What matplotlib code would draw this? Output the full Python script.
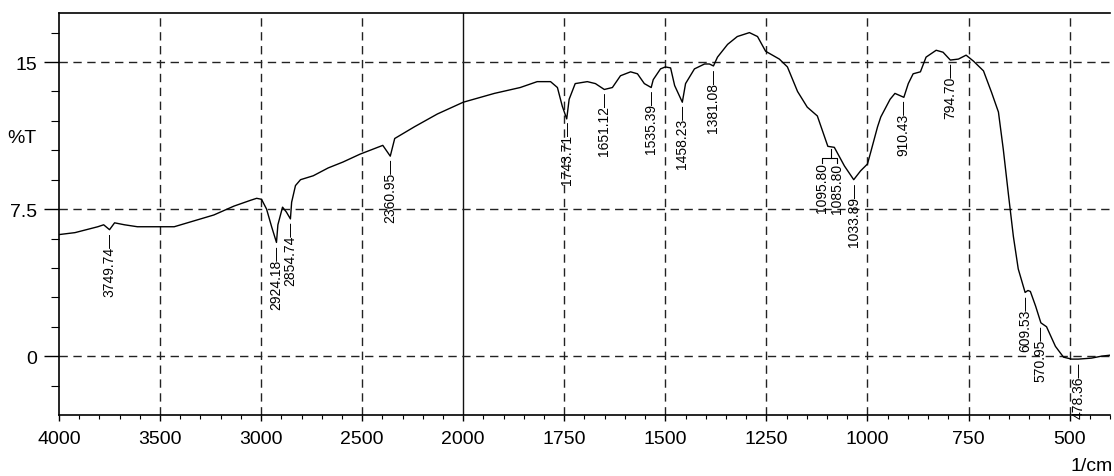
import numpy as np
import matplotlib.pyplot as plt

plt.rcParams['font.family'] = ['Liberation Sans', 'DejaVu Sans']

# IR spectrum traced off the print-out (1/cm, %T)
wavenumber = [4000, 3921, 3808, 3779, 3750, 3725, 3676, 3612, 3514, 3430,
              3332, 3234, 3135, 3052, 3022, 2998, 2973, 2948, 2924, 2917,
              2894, 2875, 2855, 2849, 2830, 2805, 2742, 2668, 2595, 2511,
              2398, 2361, 2339, 2241, 2128, 2000, 1923, 1859, 1817, 1784,
              1767, 1755, 1744, 1738, 1723, 1693, 1673, 1651, 1631, 1611,
              1586, 1569, 1552, 1535, 1530, 1512, 1500, 1487, 1477, 1458,
              1450, 1428, 1403, 1391, 1381, 1371, 1346, 1322, 1292, 1272,
              1252, 1218, 1198, 1173, 1149, 1124, 1098, 1082, 1057, 1034,
              1017, 1000, 992, 975, 967, 944, 932, 910, 899, 887,
              869, 855, 830, 813, 795, 775, 756, 738, 713, 693,
              676, 664, 651, 639, 627, 610, 603, 597, 584, 571,
              557, 535, 515, 495, 478, 446, 421, 400]
transmittance = [6.2, 6.3, 6.6, 6.7, 6.45, 6.8, 6.7, 6.6, 6.6, 6.6,
                 6.9, 7.2, 7.65, 7.95, 8.05, 8.0, 7.5, 6.6, 5.8, 6.7,
                 7.6, 7.35, 7.0, 7.85, 8.7, 9.0, 9.2, 9.6, 9.9, 10.3,
                 10.75, 10.2, 11.1, 11.7, 12.35, 12.95, 13.4, 13.7, 14.0, 14.0,
                 13.7, 12.75, 12.1, 13.1, 13.9, 14.0, 13.9, 13.6, 13.7, 14.3,
                 14.5, 14.4, 13.9, 13.7, 14.1, 14.65, 14.75, 14.7, 13.8, 12.95,
                 13.9, 14.65, 14.9, 14.9, 14.8, 15.25, 15.9, 16.3, 16.5, 16.3,
                 15.55, 15.15, 14.75, 13.5, 12.7, 12.25, 10.7, 10.65, 9.7, 9.0,
                 9.45, 9.8, 10.4, 11.7, 12.2, 13.1, 13.4, 13.2, 13.9, 14.4,
                 14.5, 15.25, 15.6, 15.5, 15.1, 15.15, 15.35, 15.05, 14.55, 13.45,
                 12.45, 10.55, 8.2, 6.1, 4.45, 3.25, 3.35, 3.3, 2.55, 1.7,
                 1.5, 0.5, -0.05, -0.15, -0.15, -0.1, 0.0, 0.05]

peak_labels = [3749.74, 2924.18, 2854.74, 2360.95, 1743.71, 1651.12, 1535.39,
               1458.23, 1381.08, 1033.89, 910.43, 794.70, 609.53, 570.95, 478.36]
pair_labels = [1095.80, 1085.80]

major_x = [4000, 3500, 3000, 2500, 2000, 1750, 1500, 1250, 1000, 750, 500]
y_ticks = [0, 7.5, 15]


# the chart prints 4000-2000 at half the scale of 2000-400
def fwd(w):
    w = np.asarray(w, dtype=float)
    return np.where(w <= 2000, w, 2000 + (w - 2000) / 2)


def inv(u):
    u = np.asarray(u, dtype=float)
    return np.where(u <= 2000, u, 2000 + (u - 2000) * 2)


fig = plt.figure(figsize=(11.14, 4.77), dpi=100)
ax = fig.add_axes([59 / 1114, 1 - 416 / 477, 1051 / 1114, 402 / 477])
ax.set_xscale('function', functions=(fwd, inv))
ax.set_xlim(4000, 400)
ax.set_ylim(-3, 17.5)

# grid
grid_kw = dict(color='#222222', lw=1.0, linestyle=(0, (6, 4)), zorder=1)
for v in major_x:
    if v == 2000:
        ax.axvline(v, color='#111111', lw=1.0, zorder=1)
    elif v != 4000:
        ax.axvline(v, **grid_kw)
for v in y_ticks:
    ax.axhline(v, **grid_kw)

ax.plot(wavenumber, transmittance, color='black', lw=1.0, zorder=3)

# peak labels hanging under each dip
wn_asc = np.array(wavenumber[::-1], dtype=float)
t_asc = np.array(transmittance[::-1], dtype=float)
for p in peak_labels:
    y0 = np.interp(p, wn_asc, t_asc)
    ax.annotate('%.2f\u2014' % p, xy=(p, y0), xytext=(0, -1.5),
                textcoords='offset points', rotation=90, ha='center', va='top',
                fontsize=10, zorder=4)

# the 1095.80 / 1085.80 pair shares one stem
pc = np.mean(pair_labels)
yp = np.interp(pc, wn_asc, t_asc)
ax.plot([pc, pc], [yp - 0.1, yp - 0.55], color='black', lw=0.8)
ax.plot([1112, 1112, 1076, 1076], [yp - 0.85, yp - 0.55, yp - 0.55, yp - 0.85],
        color='black', lw=0.8)
for p, xx in zip(pair_labels, [1112, 1076]):
    ax.text(xx, yp - 0.8, '%.2f' % p, rotation=90, ha='center', va='top',
            fontsize=10, zorder=4)

# ticks
ax.set_xticks(major_x)
ax.set_xticklabels([str(v) for v in major_x])
minor_x = list(range(3900, 2000, -100)) + list(range(1950, 399, -50))
ax.set_xticks(minor_x, minor=True)
ax.set_yticks(y_ticks)
ax.set_yticklabels(['0', '7.5', '15'])
ax.set_yticks([-1.5, 1.5, 3, 4.5, 6, 9, 10.5, 12, 13.5, 16.5], minor=True)
ax.tick_params(axis='x', which='major', direction='out', length=4, width=1,
               pad=7, labelsize=14)
ax.tick_params(axis='x', which='minor', direction='out', length=3, width=0.8)
ax.tick_params(axis='y', which='major', direction='out', length=11, width=1,
               pad=5, labelsize=14)
ax.tick_params(axis='y', which='minor', direction='out', length=6, width=0.8)

for s in ['left', 'top', 'bottom']:
    ax.spines[s].set_linewidth(1.2)
ax.spines['right'].set_visible(False)

fig.text(22 / 1114, 1 - 139 / 477, '%T', fontsize=14, ha='center', va='center')
fig.text(1113 / 1114, 1 - 467 / 477, '1/cm', fontsize=14, ha='right', va='center')

fig.savefig('out.png', dpi=100)
